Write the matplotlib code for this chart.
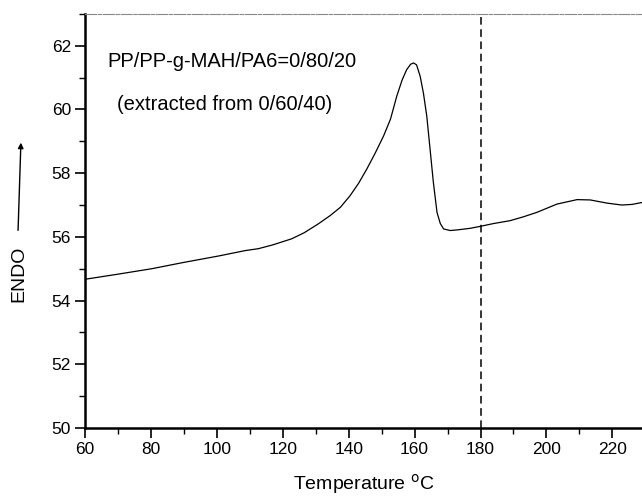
import numpy as np
import matplotlib
matplotlib.use("Agg")
import matplotlib.pyplot as plt
from matplotlib.ticker import MultipleLocator

plt.rcParams['font.family'] = ['Liberation Sans', 'DejaVu Sans']

# DSC trace
temp = [60, 70, 80.2, 90, 100.5, 108.6, 112.6, 117, 122.7, 126.5, 130.8, 134.4,
        137.5, 140.4, 143, 145.5, 148, 150.6, 152.7, 154.6, 156.2, 157.6, 158.8,
        159.7, 160.6, 161.7, 162.7, 163.7, 164.7, 165.7, 166.8, 167.8, 168.8,
        170.8, 173, 176.9, 179.4, 184, 189.0, 193, 197.1, 203.2, 209.3, 213.3,
        218.4, 222.9, 226, 229.0]
endo = [54.67, 54.83, 55.0, 55.2, 55.4, 55.57, 55.63, 55.75, 55.94, 56.13,
        56.41, 56.67, 56.93, 57.29, 57.68, 58.13, 58.62, 59.17, 59.7, 60.42,
        60.92, 61.25, 61.42, 61.46, 61.4, 61.04, 60.5, 59.79, 58.75, 57.71,
        56.77, 56.42, 56.25, 56.2, 56.22, 56.27, 56.32, 56.42, 56.51, 56.63,
        56.77, 57.03, 57.17, 57.16, 57.06, 57.0, 57.02, 57.08]
marker_temp = 180

fig = plt.figure(figsize=(6.42, 4.96), dpi=100)
ax = fig.add_axes([0.1324, 0.137, 0.8676, 0.835])

ax.plot(temp, endo, color='black', lw=0.9)
ax.axvline(marker_temp, color='black', lw=1.1, ls=(0, (5, 3)))

ax.set_xlim(60, 229)
ax.set_ylim(50, 63)
ax.xaxis.set_major_locator(MultipleLocator(20))
ax.xaxis.set_minor_locator(MultipleLocator(10))
ax.yaxis.set_major_locator(MultipleLocator(2))
ax.yaxis.set_minor_locator(MultipleLocator(1))
ax.tick_params(which='major', direction='out', length=7, width=1.2, labelsize=12.5, pad=3)
ax.tick_params(which='minor', direction='out', length=4, width=1.0)
ax.tick_params(top=False, right=False)

ax.spines['right'].set_visible(False)
ax.spines['left'].set_linewidth(1.8)
ax.spines['bottom'].set_linewidth(1.8)
ax.spines['top'].set_color('#888888')
ax.spines['top'].set_linewidth(0.8)
ax.spines['top'].set_linestyle((0, (10, 1.5, 3, 1.5)))

ax.set_xlabel('Temperature $^{\\rm o}$C', fontsize=14, labelpad=11)

ax.text(66.7, 61.5, 'PP/PP-g-MAH/PA6=0/80/20', fontsize=14.5, va='center', ha='left')
ax.text(69.7, 60.16, '(extracted from 0/60/40)', fontsize=14.5, va='center', ha='left')

fig.text(0.03, 0.448, 'ENDO', rotation=90, fontsize=14, ha='center', va='center')
fig.patches.append(matplotlib.patches.FancyArrowPatch(
    (0.028, 0.530), (0.0327, 0.718), transform=fig.transFigure,
    arrowstyle='-|>', mutation_scale=8, color='black', lw=1.0))

fig.savefig('out.png', dpi=100)
